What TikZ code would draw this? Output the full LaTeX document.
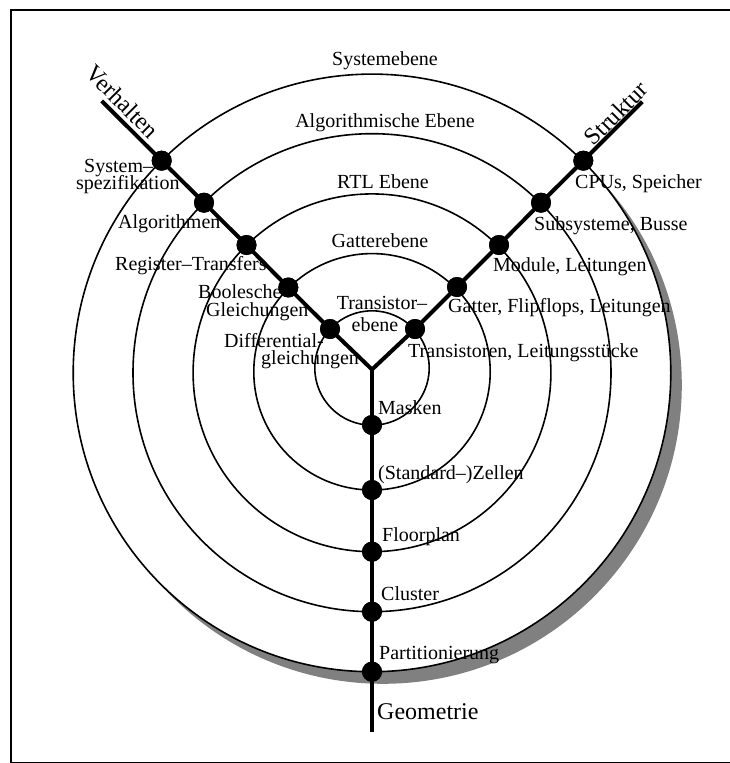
\documentclass[tikz,border=0pt]{standalone}
\usepackage{fontspec}
\setmainfont{Liberation Serif}
\begin{document}
\begin{tikzpicture}[x=1pt,y=-1pt,
  dot/.style={circle,fill=black,inner sep=0pt,minimum size=20pt},
  lbl/.style={inner sep=0pt,font=\fontsize{20}{22}\selectfont},
  big/.style={inner sep=0pt,font=\fontsize{24}{26}\selectfont},
  ring/.style={line width=1.6pt},
  arm/.style={line width=4pt},
  frame/.style={line width=1.5pt}]
\useasboundingbox (0,0) rectangle (730,763);
\draw[frame] (740,10) -- (11,10) -- (11,762.5) -- (740,762.5);
% shadow and rings
\fill[black!50] (383,385) circle[radius=298.8pt];
\fill[white] (372,372.9) circle[radius=298.8pt];
\draw[ring] (372,372.9) circle[radius=298.8pt];
\draw[ring] (372,372.7) circle[radius=239pt];
\draw[ring] (372,372.8) circle[radius=178.9pt];
\draw[ring] (372,371.8) circle[radius=118.2pt];
\draw[ring] (372,368) circle[radius=57.2pt];
% axes
\coordinate (J) at (372,369.5);
\coordinate (VE) at (101.7,101);
\coordinate (SE) at (642.3,101.7);
\coordinate (GE) at (372,732.3);
\node[dot] (L5) at (161.7,160.7) {};
\node[dot] (L4) at (204,202.7) {};
\node[dot] (L3) at (246.5,245) {};
\node[dot] (L2) at (288.3,287.5) {};
\node[dot] (L1) at (330,329) {};
\node[dot] (R5) at (583.3,160.7) {};
\node[dot] (R4) at (541,202.7) {};
\node[dot] (R3) at (499,245) {};
\node[dot] (R2) at (457,287) {};
\node[dot] (R1) at (415,329) {};
\node[dot] (B1) at (372,425) {};
\node[dot] (B2) at (372,490) {};
\node[dot] (B3) at (372,551.7) {};
\node[dot] (B4) at (372,611.7) {};
\node[dot] (B5) at (372,671.7) {};
\draw[arm] (VE) -- (L5.center) -- (L4.center) -- (L3.center) -- (L2.center) -- (L1.center) -- (J)
  -- (R1.center) -- (R2.center) -- (R3.center) -- (R4.center) -- (R5.center) -- (SE);
\draw[arm] (J) -- (B1.center) -- (B2.center) -- (B3.center) -- (B4.center) -- (B5.center) -- (GE);
\foreach \n in {L1,L2,L3,L4,L5,R1,R2,R3,R4,R5,B1,B2,B3,B4,B5} \node[dot] at (\n) {};
% level labels
\node[lbl,anchor=base] (t1) at (385,65.5) {Systemebene};
\node[lbl,anchor=base] (t2) at (385,127.5) {Algorithmische Ebene};
\node[lbl,anchor=base] (t3) at (383,188.5) {RTL Ebene};
\node[lbl,anchor=base] (t4) at (380,247.5) {Gatterebene};
\node[lbl,anchor=base] (t5a) at (382,309.5) {Transistor–};
\node[lbl,anchor=base] (t5b) at (375,331.5) {ebene};
% behaviour labels
\node[lbl,anchor=base west] (v5a) at (84,172.7) {System–};
\node[lbl,anchor=base west] (v5b) at (76,189) {spezifikation};
\node[lbl,anchor=base west] (v4) at (118,228.3) {Algorithmen};
\node[lbl,anchor=base west] (v3) at (115,270.7) {Register–Transfers};
\node[lbl,anchor=base west] (v2a) at (198,298.5) {Boolesche};
\node[lbl,anchor=base west] (v2b) at (206,316.5) {Gleichungen};
\node[lbl,anchor=base west] (v1a) at (224,347.5) {Differential-};
\node[lbl,anchor=base west] (v1b) at (261,364.5) {gleichungen};
% structure labels
\node[lbl,anchor=base west] (s5) at (575,188.5) {CPUs, Speicher};
\node[lbl,anchor=base west] (s4) at (534,230.5) {Subsysteme, Busse};
\node[lbl,anchor=base west] (s3) at (493,271.5) {Module, Leitungen};
\node[lbl,anchor=base west] (s2) at (448,312.5) {Gatter, Flipflops, Leitungen};
\node[lbl,anchor=base west] (s1) at (408,357.5) {Transistoren, Leitungsstücke};
% geometry labels
\node[lbl,anchor=base west] (g1) at (378,414.5) {Masken};
\node[lbl,anchor=base west] (g2) at (378,479.5) {(Standard–)Zellen};
\node[lbl,anchor=base west] (g3) at (382,541.5) {Floorplan};
\node[lbl,anchor=base west] (g4) at (381,600.5) {Cluster};
\node[lbl,anchor=base west] (g5) at (379,659.5) {Partitionierung};
% axis labels
\node[big,rotate=-45] (verh) at (122.5,101.5) {Verhalten};
\node[big,rotate=45] (strk) at (616,113.3) {Struktur};
\node[big,anchor=base west] (geom) at (377,719.3) {Geometrie};
\end{tikzpicture}
\end{document}
